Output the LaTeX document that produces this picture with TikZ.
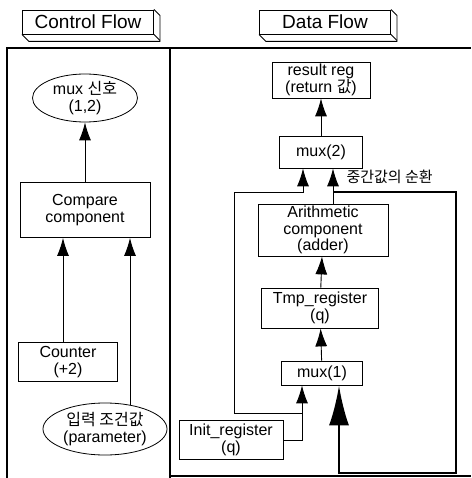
\documentclass[tikz,border=0pt]{standalone}
\usepackage{fontspec}
\setmainfont{Liberation Sans}
\newfontfamily\kr{Noto Sans CJK KR}
\usetikzlibrary{arrows.meta}
\usetikzlibrary{shapes}

\begin{document}
\begin{tikzpicture}[x=1pt, y=-1pt]
\tikzset{
  block/.style    = {shape=rectangle, draw, line width=0.8pt,
                     align=center, inner sep=0pt,
                     font=\fontsize{16}{16.5}\selectfont},
  oval/.style     = {block, ellipse},
  title/.style    = {shape=rectangle, draw, line width=0.9pt,
                     minimum width=131pt, minimum height=24pt,
                     font=\fontsize{19}{20}\selectfont},
  depth/.style    = {line width=0.9pt},
  frame/.style    = {line width=1.3pt},
  wire/.style     = {-{Latex[length=18pt,width=12pt]}, line width=0.9pt},
  cycleline/.style = {line width=2.6pt,
                     -{Latex[length=40pt,width=20pt]}}
}
\useasboundingbox (0,0) rectangle (471,478);

% titles
\node[title] (ctl) at (88,22) {Control Flow};
\node[title] (dat) at (325,22) {Data Flow};
\foreach \t in {ctl,dat} {
  \draw[depth] (\t.north east) -- ++(6,6)
    |- ([xshift=7pt,yshift=-7pt]\t.south west) -- (\t.south west);
  \draw[depth] (\t.south east) -- ++(6,6);
}

% frame
\draw[frame] (7,478) -- (7,48) -- (471,48);
\draw[frame] (170,48) -- (170,478);
\draw[frame] (170,476) -- (471,476);

% control flow
\node[oval, minimum width=105pt, minimum height=48pt] (muxsig) at (85,98)
  {mux {\kr 신호}\\(1,2)};
\node[block, minimum width=130pt, minimum height=55pt] (cmp) at (85,210)
  {Compare\\component};
\node[block, minimum width=99pt, minimum height=39pt] (cnt) at (68,362)
  {Counter\\(+2)};
\node[oval, minimum width=124pt, minimum height=52pt] (param) at (105,429)
  {{\kr 입력 조건값}\\(parameter)};

\draw[wire] (cmp) -- (muxsig);
\draw[wire] ([xshift=-5pt]cnt.north) -- ([xshift=-5pt]cnt.north |- cmp.south);
\draw[wire] ([xshift=25pt,yshift=-2pt]param.north)
  -- ([xshift=25pt]param.north |- cmp.south);

% data flow
\node[block, minimum width=98pt, minimum height=36pt] (res) at (321,80)
  {result reg\\(return {\kr 값})};
\node[block, minimum width=83pt, minimum height=32pt] (mux2) at (321,152)
  {mux(2)};
\node[block, minimum width=130pt, minimum height=52pt] (alu) at (323,230)
  {Arithmetic\\component\\(adder)};
\node[block, minimum width=117pt, minimum height=40pt] (tmp) at (320,308)
  {Tmp\_register\\(q)};
\node[block, minimum width=81pt, minimum height=24pt] (mux1) at (322,373)
  {mux(1)};
\node[block, minimum width=104pt, minimum height=39pt] (init) at (231,440)
  {Init\_register\\(q)};
\node[anchor=west, font=\kr\fontsize{15}{16}\selectfont] (cyc) at (343,177)
  {중간값의 순환};

\coordinate (split) at (302,413);
\coordinate (back) at (234,192);
\coordinate (fb) at (333,192);

\draw[wire] (mux2) -- (res);
\draw[wire] (tmp) -- (alu);
\draw[wire] (mux1) -- (tmp);
\draw[wire] (init.east) -| ([xshift=-20pt]mux1.south);
\draw[wire] (split) -| (back) -| ([xshift=-18pt]mux2.south);
\draw[wire] ([xshift=10pt]alu.north) -- ([xshift=10pt]alu.north |- mux2.south);
\draw[cycleline] (fb) -| (456,473) -| ([xshift=17pt]mux1.south);
\end{tikzpicture}
\end{document}
